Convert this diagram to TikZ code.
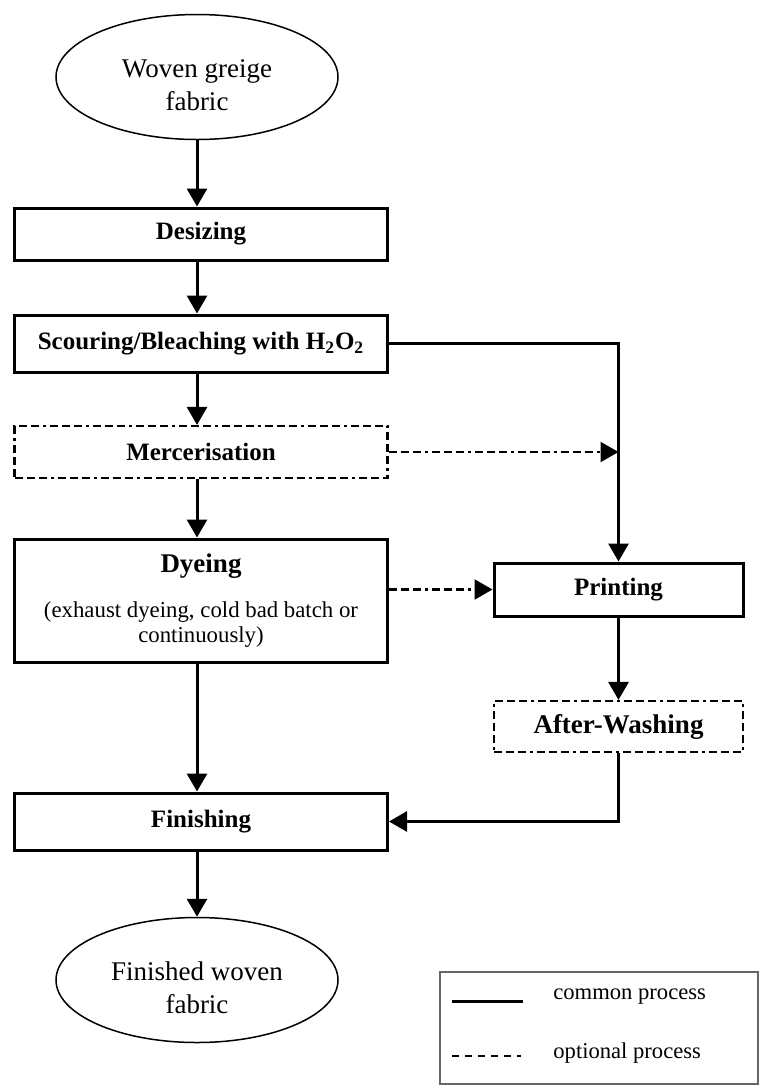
\documentclass[tikz,border=0pt]{standalone}
\usepackage{fontspec}
\setmainfont{Liberation Serif}
\usetikzlibrary{arrows.meta,shapes.geometric}

\newcommand{\lowtwo}[2]{\raisebox{-5pt}[\height][\depth]{\begin{tabular}{@{}c@{}}#1\\#2\end{tabular}}}

\begin{document}
\begin{tikzpicture}[x=0.5pt,y=-0.5pt,
    proc/.style={draw, line width=1.5pt, minimum width=186.5pt, minimum height=26pt,
      inner sep=0pt, align=center, font=\fontsize{12.5}{15}\selectfont\bfseries},
    optline/.style={line width=1.1pt, dash pattern=on 4pt off 2pt on 4pt off 2pt on 4pt off 2pt on 1.5pt off 2pt},
    optproc/.style={proc, optline},
    terminal/.style={ellipse, draw, line width=0.75pt, minimum width=141pt,
      minimum height=62.5pt, inner sep=0pt,
      font=\fontsize{13.5}{16.5}\selectfont},
    flow/.style={line width=1.5pt, -{Triangle[width=10pt,length=9pt]}},
    legtext/.style={anchor=west, inner sep=0pt, font=\fontsize{11.3}{13}\selectfont}]
    \useasboundingbox (0,0) rectangle (759,1088);

    % Main column
    \node[terminal] (greige) at (197,77) {\lowtwo{Woven greige}{fabric}};
    \node[proc] (desize) at (201,234) {Desizing};
    \node[proc, minimum height=28.5pt] (scour) at (201,343.5)
        {Scouring/Bleaching with H\textsubscript{2}O\textsubscript{2}};
    \node[optproc] (merc) at (201,452) {Mercerisation};
    \node[proc, minimum height=61.5pt, font=\fontsize{11.4}{12.5}\selectfont] (dye) at (201,600.5)
        {{\fontsize{13.5}{16}\selectfont\bfseries Dyeing}\\[10pt](exhaust dyeing, cold bad batch or\\continuously)};
    \node[proc, minimum height=28.5pt] (finish) at (201,821.5) {Finishing};
    \node[terminal] (woven) at (197,980) {\lowtwo{Finished woven}{fabric}};

    % Right column
    \node[proc, minimum width=124.5pt, minimum height=26.5pt] (print) at (618.5,589.5) {Printing};
    \node[optproc, minimum width=124.5pt, minimum height=25.5pt,
        font=\fontsize{13.5}{15}\selectfont\bfseries] (wash) at (618.5,726.5) {After-Washing};

    % Common process
    \draw[flow] (greige.south) -- (greige.south |- desize.north);
    \draw[flow] (desize.south -| greige.south) -- (greige.south |- scour.north);
    \draw[flow] (scour.south -| greige.south) -- (greige.south |- merc.north);
    \draw[flow] (merc.south -| greige.south) -- (greige.south |- dye.north);
    \draw[flow] (dye.south -| greige.south) -- (greige.south |- finish.north);
    \draw[flow] (finish.south -| greige.south) -- (woven.north);
    \draw[flow] (scour.east) -| (print.north);
    \draw[flow] (print) -- (wash);
    \draw[flow] (wash.south) |- (finish.east);

    % Optional process
    \draw[flow, optline] (merc.east) -- (merc.east -| print.north);
    \draw[flow, optline] (dye.east |- print.west) -- (print.west);

    % Legend
    \node[draw=gray!80!black, line width=0.8pt, minimum width=159pt, minimum height=56pt,
        inner sep=0pt] (legend) at (599,1028) {};
    \coordinate (solidA) at (452,1001);
    \coordinate (solidB) at (523,1001);
    \coordinate (dashA) at (452,1056);
    \coordinate (dashB) at (521,1056);
    \draw[line width=1.5pt] (solidA) -- (solidB);
    \draw[line width=0.6pt, dash pattern=on 3.5pt off 3pt] (dashA) -- (dashB);
    \node[legtext] (common) at (553,997) {common process};
    \node[legtext] (optional) at (553,1053) {optional process};
\end{tikzpicture}
\end{document}
